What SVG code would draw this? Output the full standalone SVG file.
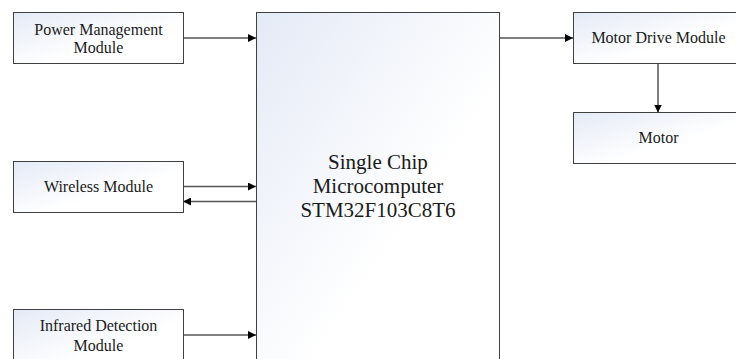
<svg xmlns="http://www.w3.org/2000/svg" width="736" height="359" viewBox="0 0 736 359">
<style>
.box{fill:url(#g);stroke:#404040;stroke-width:1}
.t{font-family:"Liberation Serif","Times New Roman",serif;font-size:16px;fill:#1a1a1a;text-anchor:middle}
.tb{font-family:"Liberation Serif","Times New Roman",serif;font-size:21px;fill:#1a1a1a;text-anchor:middle}
.c{stroke:#000;stroke-width:1.2;fill:none}
.cg{stroke:#555;stroke-width:1.5;fill:none}
</style>
<defs>
<linearGradient id="g" x1="0" y1="0" x2="1" y2="1">
<stop offset="0" stop-color="#e4eaf6"/>
<stop offset="0.6" stop-color="#ffffff"/>
</linearGradient>
<marker id="a" viewBox="0 0 10 10" refX="10" refY="5" markerWidth="8" markerHeight="8" markerUnits="userSpaceOnUse" orient="auto">
<path d="M0,0 L10,5 L0,10 z" fill="#000"/>
</marker>
</defs>
<rect width="736" height="359" fill="#fff"/>
<g id="connectors">
<line class="c" x1="183" y1="38" x2="256" y2="38" marker-end="url(#a)"/>
<line class="cg" x1="183" y1="186.5" x2="256" y2="186.5" marker-end="url(#a)"/>
<line class="cg" x1="256" y1="201.5" x2="183" y2="201.5" marker-end="url(#a)"/>
<line class="c" x1="183" y1="335" x2="256" y2="335" marker-end="url(#a)"/>
<line class="c" x1="500" y1="38" x2="573" y2="38" marker-end="url(#a)"/>
<line class="cg" x1="658" y1="63" x2="658" y2="112.5" marker-end="url(#a)"/>
</g>
<g id="mcu">
<rect class="box" x="256.5" y="12.5" width="243" height="360"/>
<text class="tb" x="378" y="169">Single Chip</text>
<text class="tb" x="378" y="193">Microcomputer</text>
<text class="tb" x="378" y="217">STM32F103C8T6</text>
</g>
<g id="power">
<rect class="box" x="13.5" y="12.5" width="170" height="51"/>
<text class="t" x="98.5" y="35">Power Management</text>
<text class="t" x="98.5" y="53">Module</text>
</g>
<g id="wireless">
<rect class="box" x="13.5" y="161.5" width="170" height="51"/>
<text class="t" x="98.5" y="191.5">Wireless Module</text>
</g>
<g id="infrared">
<rect class="box" x="13.5" y="309.5" width="170" height="60"/>
<text class="t" x="98.5" y="331">Infrared Detection</text>
<text class="t" x="98.5" y="351">Module</text>
</g>
<g id="motordrive">
<rect class="box" x="573.5" y="12.5" width="170" height="51"/>
<text class="t" x="658.5" y="43">Motor Drive Module</text>
</g>
<g id="motor">
<rect class="box" x="573.5" y="112.5" width="170" height="51"/>
<text class="t" x="658.5" y="143">Motor</text>
</g>
</svg>
